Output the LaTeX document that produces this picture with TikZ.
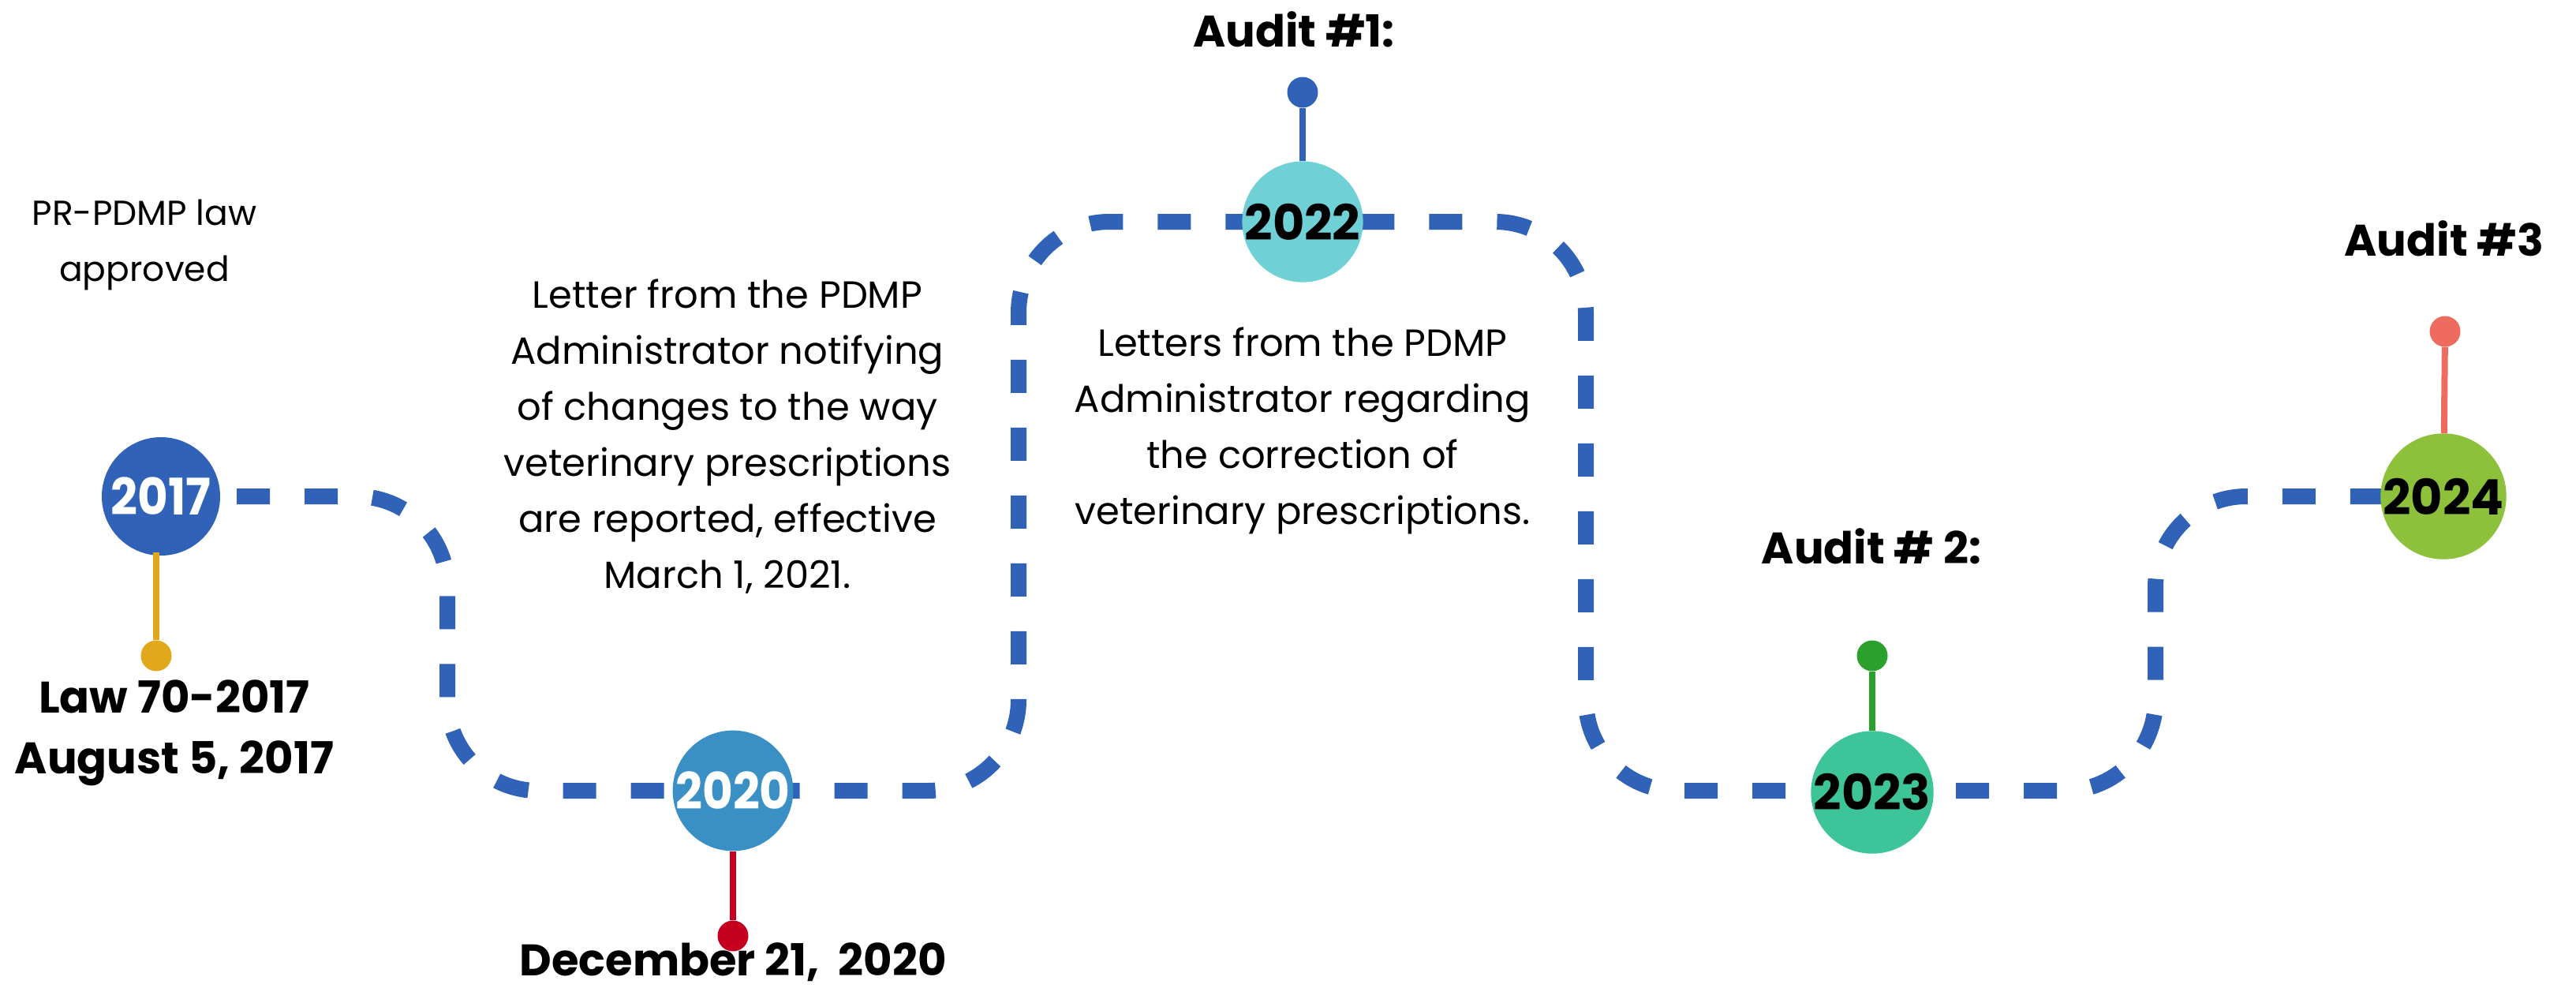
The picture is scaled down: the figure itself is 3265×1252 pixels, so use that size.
\documentclass[tikz,border=0pt]{standalone}
\usepackage{fontspec}
\setmainfont{Poppins}
\newfontfamily\yearfontw[FakeStretch=0.93]{Poppins}
\newfontfamily\yearfontb{Poppins}
\definecolor{lineblue}{HTML}{3062B8}
\definecolor{c17}{HTML}{3062B8}
\definecolor{c20}{HTML}{3A90C4}
\definecolor{c22}{HTML}{6FD0D6}
\definecolor{c23}{HTML}{3DC498}
\definecolor{c24}{HTML}{8DC13C}
\definecolor{sgold}{HTML}{E0A81A}
\definecolor{sred}{HTML}{C4001E}
\definecolor{sblue}{HTML}{3062B8}
\definecolor{sgreen}{HTML}{2CA02C}
\definecolor{ssalmon}{HTML}{EE6B5F}
\begin{document}
\begin{tikzpicture}[x=1pt,y=-1pt,
  pathline/.style={draw=lineblue, line width=20pt, dash pattern=on 42pt off 44pt, rounded corners=115pt},
  yearnode/.style={circle, minimum size=150pt, inner sep=0pt},
  yearw/.style={yearnode, text=white, font=\yearfontw\bfseries\fontsize{64}{64}\selectfont},
  yearb/.style={yearnode, text=black, font=\yearfontb\bfseries\fontsize{62}{62}\selectfont},
  stemline/.style={line width=8pt},
  dotnode/.style={circle, minimum size=39pt, inner sep=0pt},
  body/.style={align=center, font=\fontsize{48}{71}\selectfont},
  boldtxt/.style={align=center, font=\bfseries\fontsize{56}{77}\selectfont}
]
\useasboundingbox (0,0) rectangle (3265,1252);
\coordinate (c1) at (567,629);
\coordinate (c2) at (567,1002);
\coordinate (c3) at (1291,1002);
\coordinate (c4) at (1291,281);
\coordinate (c5) at (2010,281);
\coordinate (c6) at (2010,1002);
\coordinate (c7) at (2732,1002);
\coordinate (c8) at (2732,629);
\coordinate (p0) at (300,629);
\coordinate (p9) at (3020,629);
\draw[pathline] (p0) -- (c1) -- (c2) -- (c3) -- (c4) -- (c5) -- (c6) -- (c7) -- (c8) -- (p9);
% dots
\node[dotnode, fill=sgold] (d17) at (198,831) {};
\node[dotnode, fill=sred] (d20) at (929,1186) {};
\node[dotnode, fill=sblue] (d22) at (1651,117) {};
\node[dotnode, fill=sgreen] (d23) at (2373,831) {};
\node[dotnode, fill=ssalmon] (d24) at (3099,420) {};
% circles
\node[yearw, fill=c17] (y17) at (204,629) {2017};
\node[yearw, fill=c20] (y20) at (929,1002) {2020};
\node[yearb, fill=c22] (y22) at (1651,281) {2022};
\node[yearb, fill=c23] (y23) at (2373,1004) {2023};
\node[yearb, fill=c24] (y24) at (3097,629) {2024};
% stems
\draw[stemline, sgold] (198,700) -- (d17);
\draw[stemline, sred] (y20) -- (d20);
\draw[stemline, sblue] (y22) -- (d22);
\draw[stemline, sgreen] (y23) -- (d23);
\draw[stemline, ssalmon] (y24) -- (d24);
% texts
\node[body, font=\fontsize{44}{71}\selectfont] (t1) at (183,310) {PR-PDMP law\\approved};
\node[boldtxt] (t2) at (221,929) {Law 70-2017\\August 5, 2017};
\node[boldtxt] (t3) at (929,1219) {December 21,\ \ 2020};
\node[body] (t4) at (922,553) {Letter from the PDMP\\Administrator notifying\\of changes to the way\\veterinary prescriptions\\are reported, effective\\March 1, 2021.};
\node[body] (t5) at (1651,546) {Letters from the PDMP\\Administrator regarding\\the correction of\\veterinary prescriptions.};
\node[boldtxt] (t6) at (1640,37) {Audit \#1:};
\node[boldtxt] (t7) at (2372,692) {Audit \# 2:};
\node[boldtxt] (t8) at (3098,302) {Audit \#3};
\end{tikzpicture}
\end{document}
